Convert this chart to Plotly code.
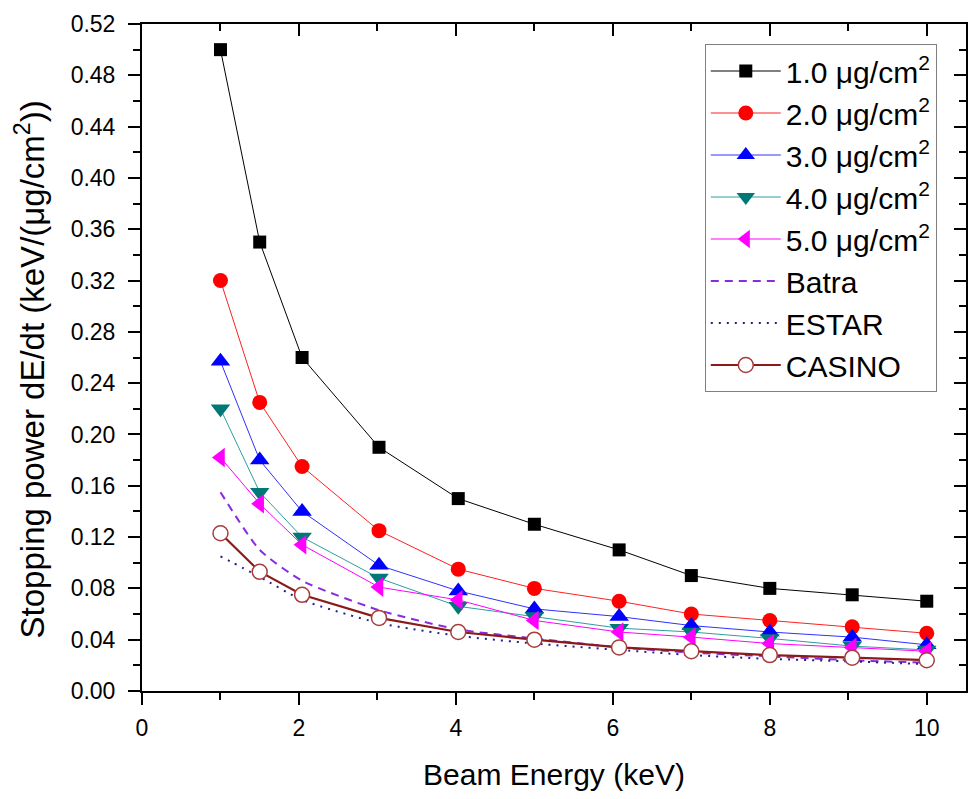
import plotly.graph_objects as go

# Beam energy (keV)
energy = [1.0, 1.5, 2.04, 3.02, 4.03, 5.0, 6.08, 7.0, 8.0, 9.05, 10.0]

# Stopping power dE/dt (keV/(ug/cm^2)) for each film thickness
sp_1ug = [0.50, 0.35, 0.26, 0.19, 0.15, 0.13, 0.11, 0.09, 0.08, 0.075, 0.07]
sp_2ug = [0.32, 0.225, 0.175, 0.125, 0.095, 0.08, 0.07, 0.06, 0.055, 0.05, 0.045]
sp_3ug = [0.257, 0.18, 0.14, 0.098, 0.078, 0.064, 0.058, 0.051, 0.046, 0.042, 0.036]
sp_4ug = [0.22, 0.155, 0.12, 0.088, 0.066, 0.058, 0.049, 0.046, 0.041, 0.035, 0.032]
sp_5ug = [0.182, 0.146, 0.114, 0.081, 0.071, 0.055, 0.046, 0.042, 0.037, 0.034, 0.031]

# Reference models
sp_batra = [0.155, 0.11, 0.086, 0.063, 0.048, 0.041, 0.034, 0.030, 0.027, 0.024, 0.022]
sp_estar = [0.105, 0.089, 0.071, 0.053, 0.043, 0.037, 0.032, 0.028, 0.025, 0.023, 0.021]
sp_casino = [0.123, 0.093, 0.075, 0.057, 0.046, 0.040, 0.034, 0.031, 0.028, 0.026, 0.024]

thick_labels = ["1.0 μg/cm<sup>2</sup>", "2.0 μg/cm<sup>2</sup>", "3.0 μg/cm<sup>2</sup>",
                "4.0 μg/cm<sup>2</sup>", "5.0 μg/cm<sup>2</sup>"]
y_ticks = [0.00, 0.04, 0.08, 0.12, 0.16, 0.20, 0.24, 0.28, 0.32, 0.36, 0.40, 0.44, 0.48, 0.52]

FONT = "Liberation Sans, Arial, sans-serif"
X_RANGE = [0, 10.5]
Y_RANGE = [0, 0.52]

fig = go.Figure()

series = [
    (sp_1ug, "#000000", "#000000", "square", 13),
    (sp_2ug, "#FF2020", "#FF0000", "circle", 15),
    (sp_3ug, "#3030FF", "#0000FF", "triangle-up", 17),
    (sp_4ug, "#2E9E9E", "#007878", "triangle-down", 17),
    (sp_5ug, "#FF00FF", "#FF00FF", "triangle-left", 17),
]
for label, (vals, lcol, mcol, sym, size) in zip(thick_labels, series):
    fig.add_trace(go.Scatter(
        x=energy, y=vals, name=label, mode="lines+markers",
        line=dict(color=lcol, width=1),
        marker=dict(symbol=sym, size=size, color=mcol, line=dict(width=0)),
    ))

fig.add_trace(go.Scatter(
    x=energy, y=sp_batra, name="Batra", mode="lines",
    line=dict(color="#8A2BE2", width=2, dash="8px,6px", shape="spline", smoothing=0.6),
))
fig.add_trace(go.Scatter(
    x=energy, y=sp_estar, name="ESTAR", mode="lines",
    line=dict(color="#202090", width=2, dash="2px,6px", shape="spline", smoothing=0.6),
))
# CASINO sits on the twin (top/right) axes, which share the same ranges,
# so those axes carry the inward frame ticks
fig.add_trace(go.Scatter(
    x=energy, y=sp_casino, name="CASINO", mode="lines+markers",
    xaxis="x2", yaxis="y2",
    line=dict(color="#8B1A1A", width=2.2),
    marker=dict(symbol="circle", size=15, color="white", line=dict(color="#A83C3C", width=1.5)),
))

axis_common = dict(showline=True, linecolor="black", linewidth=2, showgrid=False,
                   zeroline=False, tickcolor="black", tickwidth=2)

fig.update_layout(
    width=968, height=799,
    margin=dict(l=142, r=0, t=24, b=108),
    paper_bgcolor="white", plot_bgcolor="white",
    font=dict(family=FONT, color="black"),
    showlegend=True,
    xaxis=dict(
        range=X_RANGE, tick0=0, dtick=2, ticks="outside", ticklen=12, mirror=True,
        minor=dict(dtick=1, ticks="outside", ticklen=7, tickwidth=2, tickcolor="black"),
        tickfont=dict(size=23, family=FONT), ticklabelstandoff=3,
        title=dict(text="Beam Energy (keV)", font=dict(size=30, family=FONT), standoff=24),
        **axis_common,
    ),
    xaxis2=dict(
        range=X_RANGE, tick0=0, dtick=2, ticks="inside", ticklen=12,
        minor=dict(dtick=1, ticks="inside", ticklen=7, tickwidth=2, tickcolor="black"),
        overlaying="x", side="top", anchor="y2", showticklabels=False,
        **axis_common,
    ),
    yaxis=dict(
        range=Y_RANGE, tickmode="array", tickvals=y_ticks, mirror=True,
        ticktext=[f"{v:.2f}" for v in y_ticks], ticks="outside", ticklen=12,
        minor=dict(dtick=0.02, tick0=0, ticks="outside", ticklen=7, tickwidth=2, tickcolor="black"),
        tickfont=dict(size=23, family=FONT), ticklabelstandoff=8,
        **axis_common,
    ),
    yaxis2=dict(
        range=Y_RANGE, tick0=0, dtick=0.04, ticks="inside", ticklen=12,
        minor=dict(dtick=0.02, tick0=0, ticks="inside", ticklen=7, tickwidth=2, tickcolor="black"),
        overlaying="y", side="right", anchor="x2", showticklabels=False,
        **axis_common,
    ),
    legend=dict(
        x=0.683, y=0.97, xanchor="left", yanchor="top",
        bgcolor="white", bordercolor="#808080", borderwidth=1,
        font=dict(size=30, family=FONT), itemwidth=70, tracegroupgap=0,
    ),
    annotations=[dict(
        text="Stopping power dE/dt (keV/(μg/cm<sup>2</sup>))",
        textangle=-90, xref="paper", yref="paper", x=-0.136, y=0.482,
        xanchor="center", yanchor="middle", showarrow=False,
        font=dict(size=33, family=FONT, color="black"),
    )],
)

fig.write_html("out.html")
